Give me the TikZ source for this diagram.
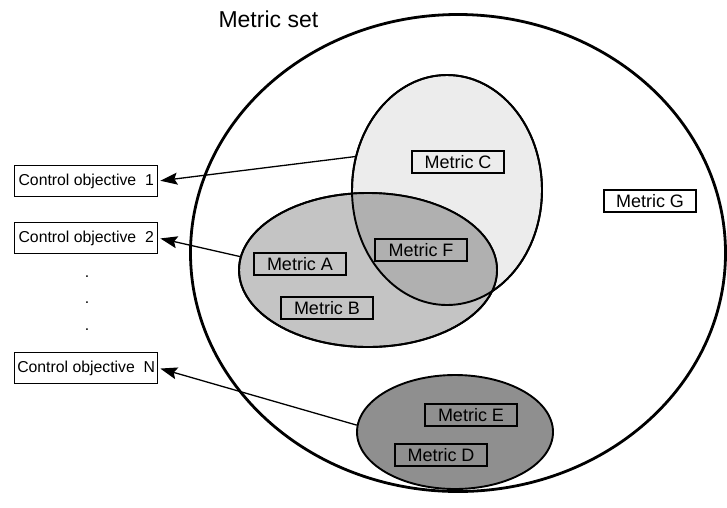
\documentclass[tikz,border=0pt]{standalone}
\usepackage{fontspec}
\setmainfont{Liberation Sans}
\usepackage{xcolor}
\usetikzlibrary{arrows.meta,shapes.geometric}
\definecolor{setLight}{RGB}{236,236,236}
\definecolor{setMid}{RGB}{196,196,196}
\definecolor{setOverlap}{RGB}{176,176,176}
\definecolor{setDark}{RGB}{143,143,143}

\begin{document}
\begin{tikzpicture}[x=1pt,y=-1pt,
  metricbox/.style={draw,line width=1.4pt,fill=white,minimum width=92pt,minimum height=22pt,inner sep=0pt,font=\fontsize{18}{19}\selectfont},
  goalbox/.style={draw,line width=1.4pt,anchor=west,minimum width=143pt,minimum height=31pt,inner sep=0pt,font=\fontsize{15.8}{17}\selectfont},
  setblob/.style={ellipse,draw,line width=1.9pt,inner sep=0pt},
  linkarrow/.style={-{Stealth[length=17pt,width=12pt,inset=3pt]},line width=1.3pt,shorten >=2pt}]
\path[use as bounding box] (0,0) rectangle (727,507);

% outer set
\node[setblob,line width=2.8pt,minimum width=535pt,minimum height=477pt] (allset) at (458,253) {};
\node[anchor=west,font=\fontsize{23}{24}\selectfont] (settitle) at (215,19) {Metric set};

% overlapping sets
\node[setblob,fill=setLight,minimum width=190pt,minimum height=230pt] (setC) at (447,190) {};
\node[setblob,fill=setMid,minimum width=258pt,minimum height=154pt] (setA) at (368,270) {};
\begin{scope}
  \clip (447,190) ellipse (95 and 115);
  \fill[setOverlap] (368,270) ellipse (129 and 77);
\end{scope}
\draw[line width=1.9pt] (447,190) ellipse (95 and 115);
\draw[line width=1.9pt] (368,270) ellipse (129 and 77);
\node[setblob,fill=setDark,minimum width=196pt,minimum height=114pt] (setD) at (455,432) {};

% metrics
\node[metricbox,fill=setLight] (metC) at (458,162) {Metric C};
\node[metricbox,fill=setOverlap] (metF) at (421,250) {Metric F};
\node[metricbox,fill=setMid] (metA) at (300,264) {Metric A};
\node[metricbox,fill=setMid] (metB) at (327,308) {Metric B};
\node[metricbox,fill=setDark] (metE) at (471,415) {Metric E};
\node[metricbox,fill=setDark] (metD) at (441,455) {Metric D};
\node[metricbox] (metG) at (650,201) {Metric G};

% control objectives
\node[goalbox] (obj1) at (14,181) {Control objective\ \ 1};
\node[goalbox] (obj2) at (14,238) {Control objective\ \ 2};
\node[goalbox] (objN) at (14,368) {Control objective\ \ N};
\node[inner sep=0pt,font=\fontsize{15.8}{17}\selectfont] (dotA) at (87,277) {.};
\node[inner sep=0pt,font=\fontsize{15.8}{17}\selectfont] (dotB) at (87,303) {.};
\node[inner sep=0pt,font=\fontsize{15.8}{17}\selectfont] (dotC) at (87,330) {.};

\draw[linkarrow] (setC.160) -- (obj1.east);
\draw[linkarrow] (setA.174) -- (obj2.east);
\draw[linkarrow] (setD.176) -- (objN.east);
\end{tikzpicture}
\end{document}
